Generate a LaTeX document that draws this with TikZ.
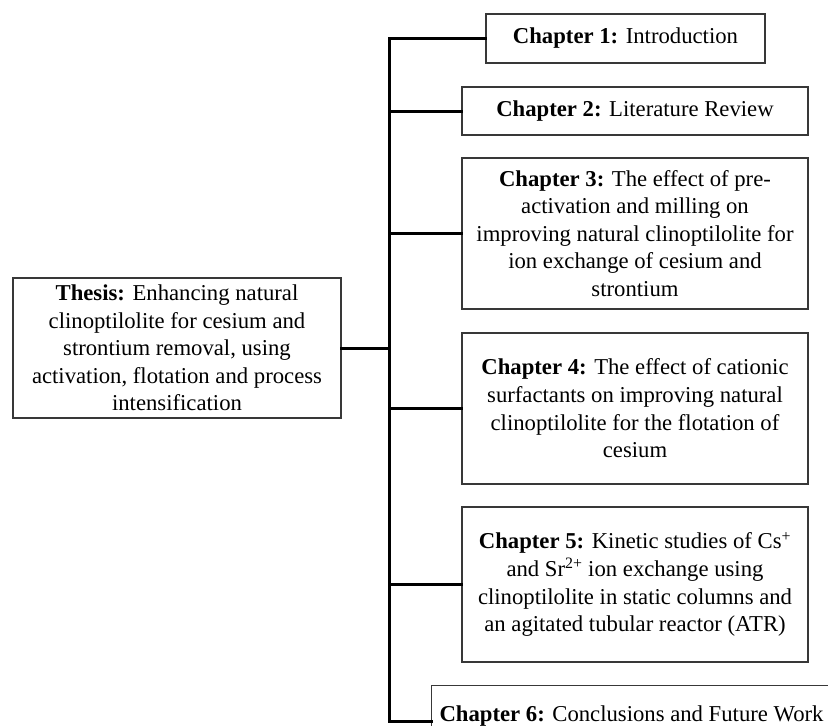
\documentclass[tikz,border=0pt]{standalone}
\usepackage{fontspec}
\setmainfont{Liberation Serif}
\begin{document}
\begin{tikzpicture}[x=1pt,y=-1pt,
  box/.style={draw=black!78,line width=1.1pt,rectangle,align=center,inner sep=0pt,
    font=\fontsize{22.7}{27.6}\selectfont},
  link/.style={line width=3pt,black,line cap=rect}]
\clip (0,0) rectangle (828,726);
\fill[white] (0,0) rectangle (828,726);

\node[box,minimum width=328pt,minimum height=140pt] (th) at (177,348)
  {\textbf{Thesis:} Enhancing natural\\clinoptilolite for cesium and\\strontium removal, using\\activation, flotation and process\\intensification};

\node[box,minimum width=279pt,minimum height=49pt] (b1) at (625.5,38.5)
  {\textbf{Chapter 1:} Introduction};
\node[box,minimum width=346pt,minimum height=48pt] (b2) at (635,111)
  {\textbf{Chapter 2:} Literature Review};
\node[box,minimum width=346pt,minimum height=151pt] (b3) at (635,233.5)
  {\textbf{Chapter 3:} The effect of pre-\\activation and milling on\\improving natural clinoptilolite for\\ion exchange of cesium and\\strontium};
\node[box,minimum width=346pt,minimum height=151pt] (b4) at (635,408.5)
  {\textbf{Chapter 4:} The effect of cationic\\surfactants on improving natural\\clinoptilolite for the flotation of\\cesium};
\node[box,minimum width=346pt,minimum height=155pt] (b5) at (635,584.5)
  {\textbf{Chapter 5:} Kinetic studies of Cs\textsuperscript{+}\\and Sr\textsuperscript{2+} ion exchange using\\clinoptilolite in static columns and\\an agitated tubular reactor (ATR)};
\node[box,anchor=north west,minimum width=400pt,minimum height=60pt,text height=16pt,text depth=4pt] (b6) at (431,685)
  {\textbf{Chapter 6:} Conclusions and Future Work};

\coordinate (bustop) at (389,38.5);
\coordinate (busbot) at (389,721);
\coordinate (b6in) at (431,721);

\draw[link] (bustop) -- (busbot);
\draw[link] (th.east) -- (th.east -| bustop);
\draw[link] (b1.west -| bustop) -- (b1.west);
\draw[link] (b2.west -| bustop) -- (b2.west);
\draw[link] (b3.west -| bustop) -- (b3.west);
\draw[link] (b4.west -| bustop) -- (b4.west);
\draw[link] (b5.west -| bustop) -- (b5.west);
\draw[link] (busbot) -- (b6in);
\end{tikzpicture}
\end{document}
